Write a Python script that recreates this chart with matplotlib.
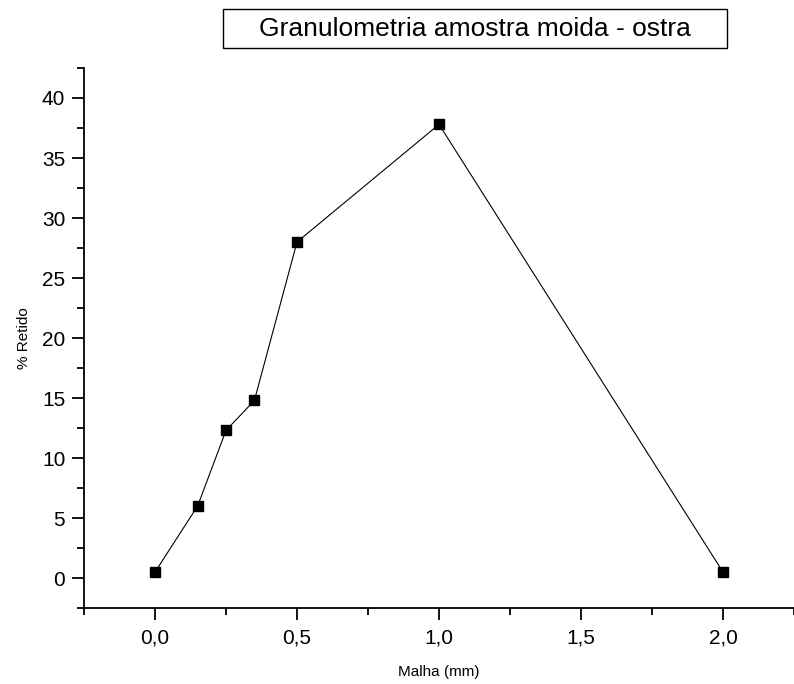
import numpy as np
import matplotlib.pyplot as plt
from matplotlib.patches import Rectangle
from matplotlib.ticker import MultipleLocator, FuncFormatter

# Dados
malha = [0.0, 0.15, 0.25, 0.35, 0.5, 1.0, 2.0]
retido = [0.5, 6.0, 12.3, 14.8, 28.0, 37.8, 0.5]

plt.rcParams['font.family'] = ['Liberation Sans', 'DejaVu Sans']

fig = plt.figure(figsize=(7.94, 6.84), dpi=100)
ax = fig.add_axes([0.1058, 0.111, 0.8942, 0.7896])

ax.plot(malha, retido, color='black', linewidth=0.8, marker='s',
        markersize=7.5, markerfacecolor='black', markeredgecolor='black')

ax.set_xlim(-0.25, 2.25)
ax.set_ylim(-2.5, 42.5)
ax.xaxis.set_major_locator(MultipleLocator(0.5))
ax.xaxis.set_minor_locator(MultipleLocator(0.25))
ax.yaxis.set_major_locator(MultipleLocator(5))
ax.yaxis.set_minor_locator(MultipleLocator(2.5))
ax.xaxis.set_major_formatter(FuncFormatter(lambda v, p: f'{v:.1f}'.replace('.', ',')))

for s in ['top', 'right']:
    ax.spines[s].set_visible(False)
for s in ['left', 'bottom']:
    ax.spines[s].set_linewidth(1.3)
ax.tick_params(which='major', direction='out', length=8.5, width=1.3, labelsize=15)
ax.tick_params(axis='x', which='major', pad=6)
ax.tick_params(axis='y', which='major', pad=5)
ax.tick_params(which='minor', direction='out', length=5, width=1.3)

ax.set_xlabel('Malha (mm)', fontsize=11, va='center')
ax.set_ylabel('% Retido', fontsize=11, va='center')
ax.xaxis.set_label_coords(0.5, -0.1185)
ax.yaxis.set_label_coords(-0.0845, 0.5)

# Caixa do título
fig.add_artist(Rectangle((0.2809, 0.9298), 0.6348, 0.057, transform=fig.transFigure,
                         fill=False, edgecolor='black', linewidth=1.0))
fig.text(0.598, 0.9583, 'Granulometria amostra moida - ostra', ha='center', va='center',
         fontsize=19)

fig.savefig('out.png', dpi=100)
